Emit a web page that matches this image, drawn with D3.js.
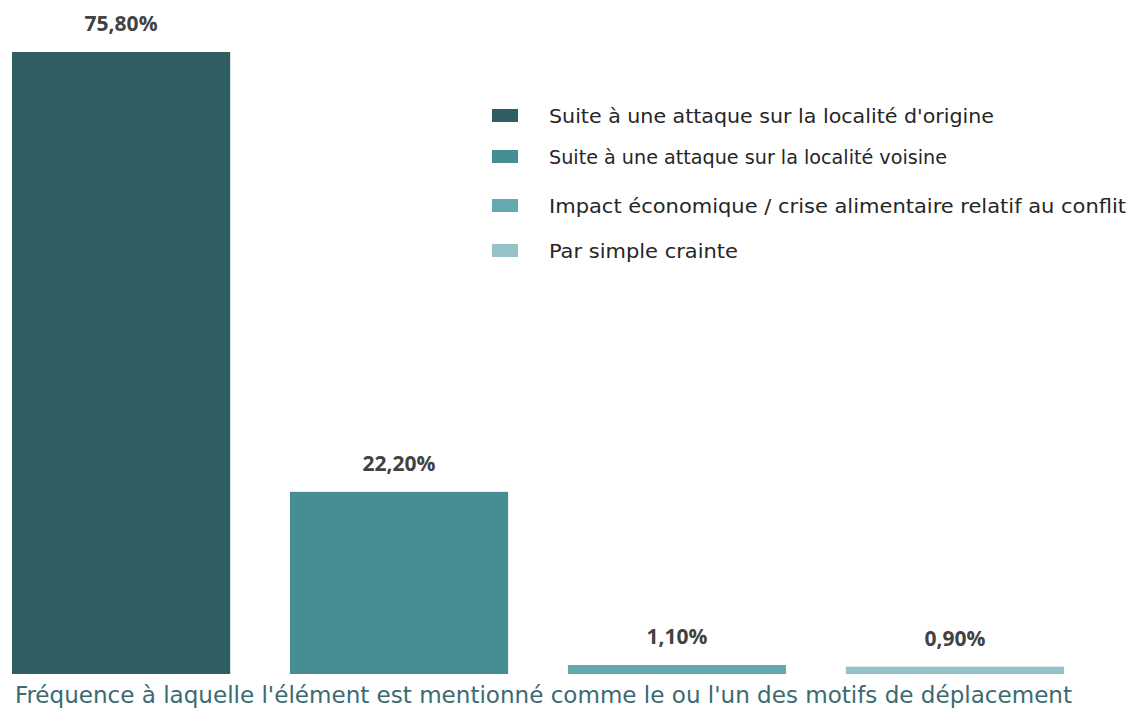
<!DOCTYPE html>
<html>
<head>
<meta charset="utf-8">
<script src="https://cdn.jsdelivr.net/npm/d3@7"></script>
<style>
  body { margin: 0; background: #fff; }
  svg { display: block; }
</style>
</head>
<body>
<svg id="chart"></svg>
<script>
// motifs de déplacement
const categories = [
  "Suite à une attaque sur la localité d'origine",
  "Suite à une attaque sur la localité voisine",
  "Impact économique / crise alimentaire relatif au conflit",
  "Par simple crainte"
]
const values = [75.8, 22.2, 1.1, 0.9]
const colors = ['#2f5e62', '#468e93', '#62a9b0', '#95c3c8']
const valueLabels = ['75,80%', '22,20%', '1,10%', '0,90%']
const axisTitle = "Fréquence à laquelle l'élément est mentionné comme le ou l'un des motifs de déplacement"

let width = 1132
let height = 713

let svg = d3.select('#chart')
  .attr('width', width)
  .attr('height', height)

let x = d3.scaleBand()
  .domain(categories)
  .range([12, 1064])
  .paddingInner(0.215)
  .paddingOuter(0)

let y = d3.scaleLinear()
  .domain([0, 75.8])
  .range([674, 52])

let data = categories.map((c, i) => ({ name: c, value: values[i], color: colors[i], label: valueLabels[i] }))

svg.append('g')
  .attr('class', 'bars')
  .selectAll('rect')
  .data(data)
  .enter().append('rect')
  .attr('x', d => x(d.name))
  .attr('y', d => y(d.value))
  .attr('width', x.bandwidth())
  .attr('height', d => y(0) - y(d.value))
  .attr('fill', d => d.color)

svg.append('g')
  .attr('class', 'labels')
  .selectAll('text')
  .data(data)
  .enter().append('text')
  .attr('x', d => x(d.name) + x.bandwidth() / 2)
  .attr('y', d => y(d.value) - 21)
  .attr('text-anchor', 'middle')
  .attr('font-family', 'Open Sans, sans-serif')
  .attr('font-weight', 'bold')
  .attr('font-size', 21)
  .attr('fill', '#424242')
  .text(d => d.label)

// legend, rows not evenly spaced in the original
let legendY = [116, 157, 206, 251]
let legendW = [445, 398, 577, 189]
let legend = svg.append('g')
  .attr('class', 'legend')
  .selectAll('g')
  .data(data)
  .enter().append('g')
  .attr('transform', (d, i) => `translate(492, ${legendY[i]})`)

legend.append('rect')
  .attr('x', 0)
  .attr('y', -7)
  .attr('width', 26)
  .attr('height', 13)
  .attr('fill', d => d.color)

legend.append('text')
  .attr('x', 57)
  .attr('y', 7)
  .attr('font-family', 'DejaVu Sans Condensed, Liberation Sans Narrow, sans-serif')
  .attr('font-size', 20)
  .attr('fill', '#262626')
  .attr('textLength', (d, i) => legendW[i])
  .attr('lengthAdjust', 'spacingAndGlyphs')
  .text(d => d.name)

svg.append('text')
  .attr('x', 15)
  .attr('y', 703)
  .attr('font-family', 'DejaVu Sans Condensed, Liberation Sans Narrow, sans-serif')
  .attr('font-size', 23)
  .attr('fill', '#3b6b72')
  .attr('textLength', 1057)
  .attr('lengthAdjust', 'spacingAndGlyphs')
  .text(axisTitle)
</script>
</body>
</html>
